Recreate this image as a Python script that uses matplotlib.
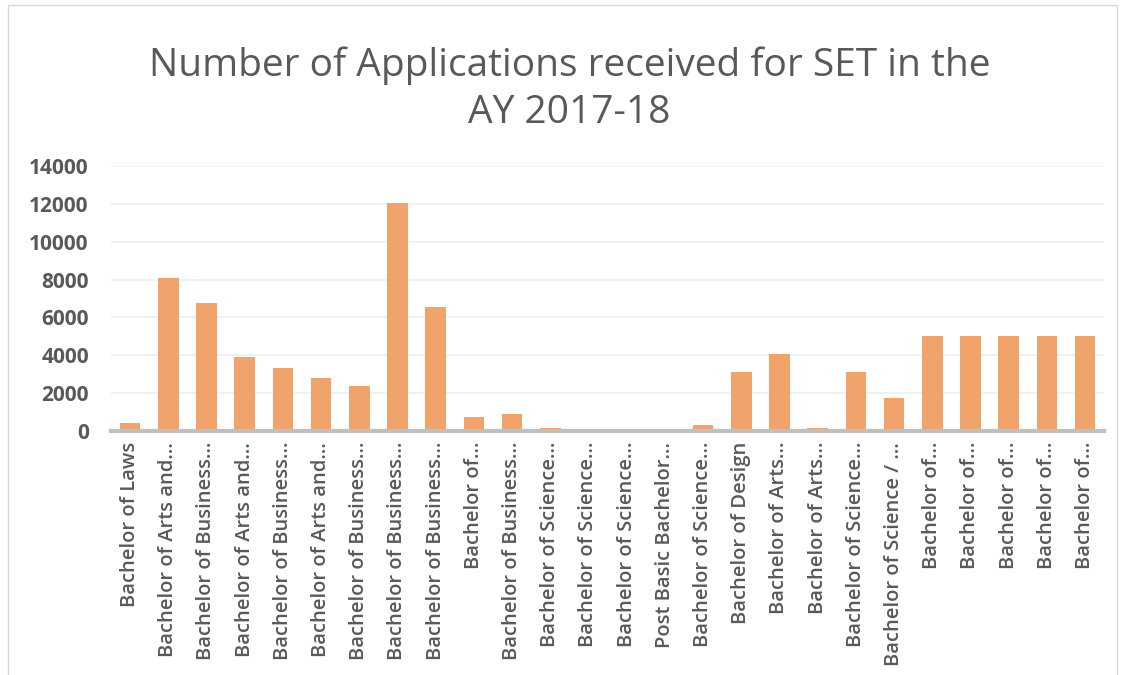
import numpy as np
import matplotlib.pyplot as plt
from matplotlib.patches import Rectangle

programs = ['Bachelor of Laws', 'Bachelor of Arts and…', 'Bachelor of Business…',
            'Bachelor of Arts and…', 'Bachelor of Business…', 'Bachelor of Arts and…',
            'Bachelor of Business…', 'Bachelor of Business…', 'Bachelor of Business…',
            'Bachelor of…', 'Bachelor of Business…', 'Bachelor of Science…',
            'Bachelor of Science…', 'Bachelor of Science…', 'Post Basic Bachelor…',
            'Bachelor of Science…', 'Bachelor of Design', 'Bachelor of Arts…',
            'Bachelor of Arts…', 'Bachelor of Science…', 'Bachelor of Science / …',
            'Bachelor of…', 'Bachelor of…', 'Bachelor of…', 'Bachelor of…', 'Bachelor of…']
applications = [420, 8060, 6760, 3930, 3330, 2790, 2360, 12030, 6550,
                760, 920, 170, 15, 60, 10, 340, 3130, 4070, 170, 3120, 1740,
                5000, 5000, 5000, 5000, 5000]
yticks = [0, 2000, 4000, 6000, 8000, 10000, 12000, 14000]

plt.rcParams['font.family'] = ['Open Sans', 'DejaVu Sans']
grey = '#595959'

fig = plt.figure(figsize=(11.21, 6.75), dpi=100)
ax = fig.add_axes([0.099, 0.3615, 0.886, 0.3925])

x = np.arange(len(programs))
ax.bar(x, applications, width=0.54, color='#f0a46c', zorder=2)

ax.set_xlim(-0.5, len(programs) - 0.5)
ax.set_ylim(0, 14000)
ax.set_yticks(yticks)
ax.set_yticklabels([str(v) for v in yticks], fontsize=15, fontweight='bold', color=grey)
ax.set_xticks(x)
ax.set_xticklabels(programs, rotation=90, fontsize=14.5, fontweight='semibold', color=grey)
ax.tick_params(axis='both', length=0)
ax.tick_params(axis='y', pad=16)
ax.tick_params(axis='x', pad=8)

ax.grid(axis='y', color='#efefef', linewidth=1.2, zorder=0)
for s in ['top', 'right', 'left']:
    ax.spines[s].set_visible(False)
ax.spines['bottom'].set_color('#bfbfbf')
ax.spines['bottom'].set_linewidth(3)
ax.spines['bottom'].set_zorder(3)

fig.text(0.508, 0.868, 'Number of Applications received for SET in the\nAY 2017-18',
         ha='center', va='center', fontsize=28, color=grey, linespacing=1.32)

fig.patches.append(Rectangle((8 / 1121, -0.01), 1109 / 1121, 1 - 5 / 675 + 0.01,
                             transform=fig.transFigure, fill=False,
                             edgecolor='#d9d9d9', linewidth=1))

fig.savefig('out.png', dpi=100)
